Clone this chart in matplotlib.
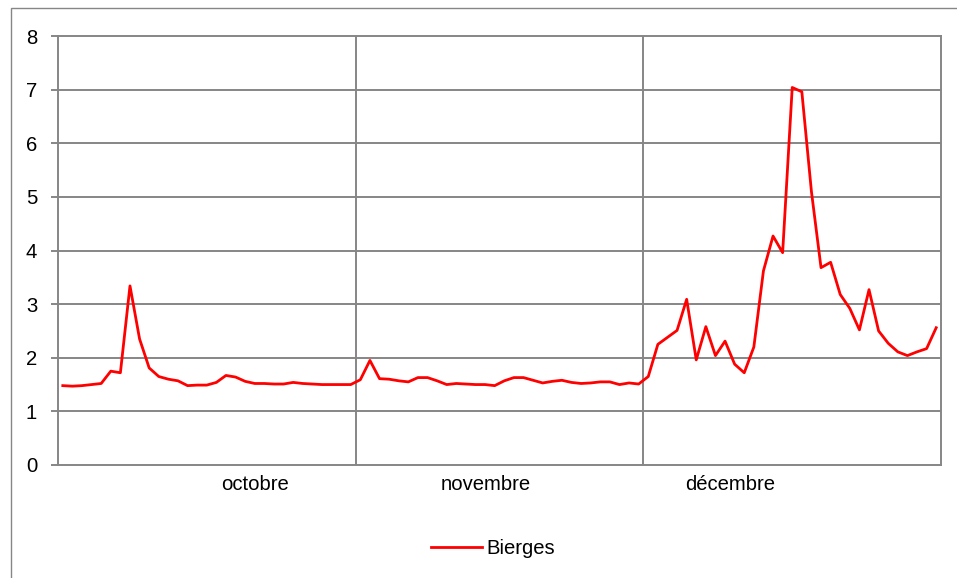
import numpy as np
import matplotlib
matplotlib.use("Agg")
import matplotlib.pyplot as plt
from matplotlib.patches import Rectangle

plt.rcParams['font.family'] = ['Liberation Sans', 'DejaVu Sans']

# daily values, 1 Oct -> 31 Dec
octobre = [1.48, 1.47, 1.48, 1.50, 1.52, 1.75, 1.72, 3.34, 2.35, 1.81,
           1.65, 1.60, 1.57, 1.48, 1.49, 1.49, 1.54, 1.67, 1.64, 1.56,
           1.52, 1.52, 1.51, 1.51, 1.54, 1.52, 1.51, 1.50, 1.50, 1.50,
           1.50]
novembre = [1.59, 1.95, 1.61, 1.60, 1.57, 1.55, 1.63, 1.63, 1.57, 1.50,
            1.52, 1.51, 1.50, 1.50, 1.48, 1.57, 1.63, 1.63, 1.58, 1.53,
            1.56, 1.58, 1.54, 1.52, 1.53, 1.55, 1.55, 1.50, 1.53, 1.51]
decembre = [1.65, 2.25, 2.38, 2.51, 3.09, 1.96, 2.58, 2.04, 2.31, 1.88,
            1.72, 2.20, 3.62, 4.27, 3.96, 7.04, 6.96, 5.10, 3.68, 3.78,
            3.18, 2.92, 2.52, 3.27, 2.50, 2.27, 2.11, 2.04, 2.11, 2.17,
            2.56]

month_labels = ['octobre', 'novembre', 'décembre']
label_pos = [20.07, 44.07, 69.5]
series_name = 'Bierges'

values = octobre + novembre + decembre
days = np.arange(len(values))
month_edges = [len(octobre) - 0.5, len(octobre) + len(novembre) - 0.5]

W, H = 957, 578
fig = plt.figure(figsize=(W / 100, H / 100), dpi=100)

grey = '#868686'
fs = 14.6

# outer chart border (only top/left visible in the crop)
fig.patches.append(Rectangle((10.5 / W, -0.2), 1.2, 1.2 - 7.5 / H,
                             transform=fig.transFigure, fill=False,
                             edgecolor=grey, linewidth=1.0))

ax = fig.add_axes([58 / W, (H - 465) / H, (941 - 58) / W, (465 - 36) / H])
ax.plot(days, values, color='#ff0000', linewidth=2.0, label=series_name)

ax.set_xlim(-0.5, len(values) - 0.5)
ax.set_ylim(0, 8)
ax.set_yticks(range(0, 9))
for y in range(1, 8):
    ax.axhline(y, color=grey, linewidth=1.4, zorder=0)
for x in month_edges:
    ax.axvline(x, color=grey, linewidth=1.4, zorder=0)

for s in ax.spines.values():
    s.set_color(grey)
    s.set_linewidth(1.4)

ax.set_xticks(label_pos)
ax.set_xticklabels(month_labels)
ax.tick_params(axis='x', length=0, pad=7, labelsize=fs)
ax.tick_params(axis='y', length=5, width=1.4, color=grey, pad=10, labelsize=fs)

fig.legend(loc='center', bbox_to_anchor=(493 / W, 1 - 549 / H),
           frameon=False, fontsize=fs, handlelength=2.5, handletextpad=0.25)

fig.savefig('out.png', dpi=100)
